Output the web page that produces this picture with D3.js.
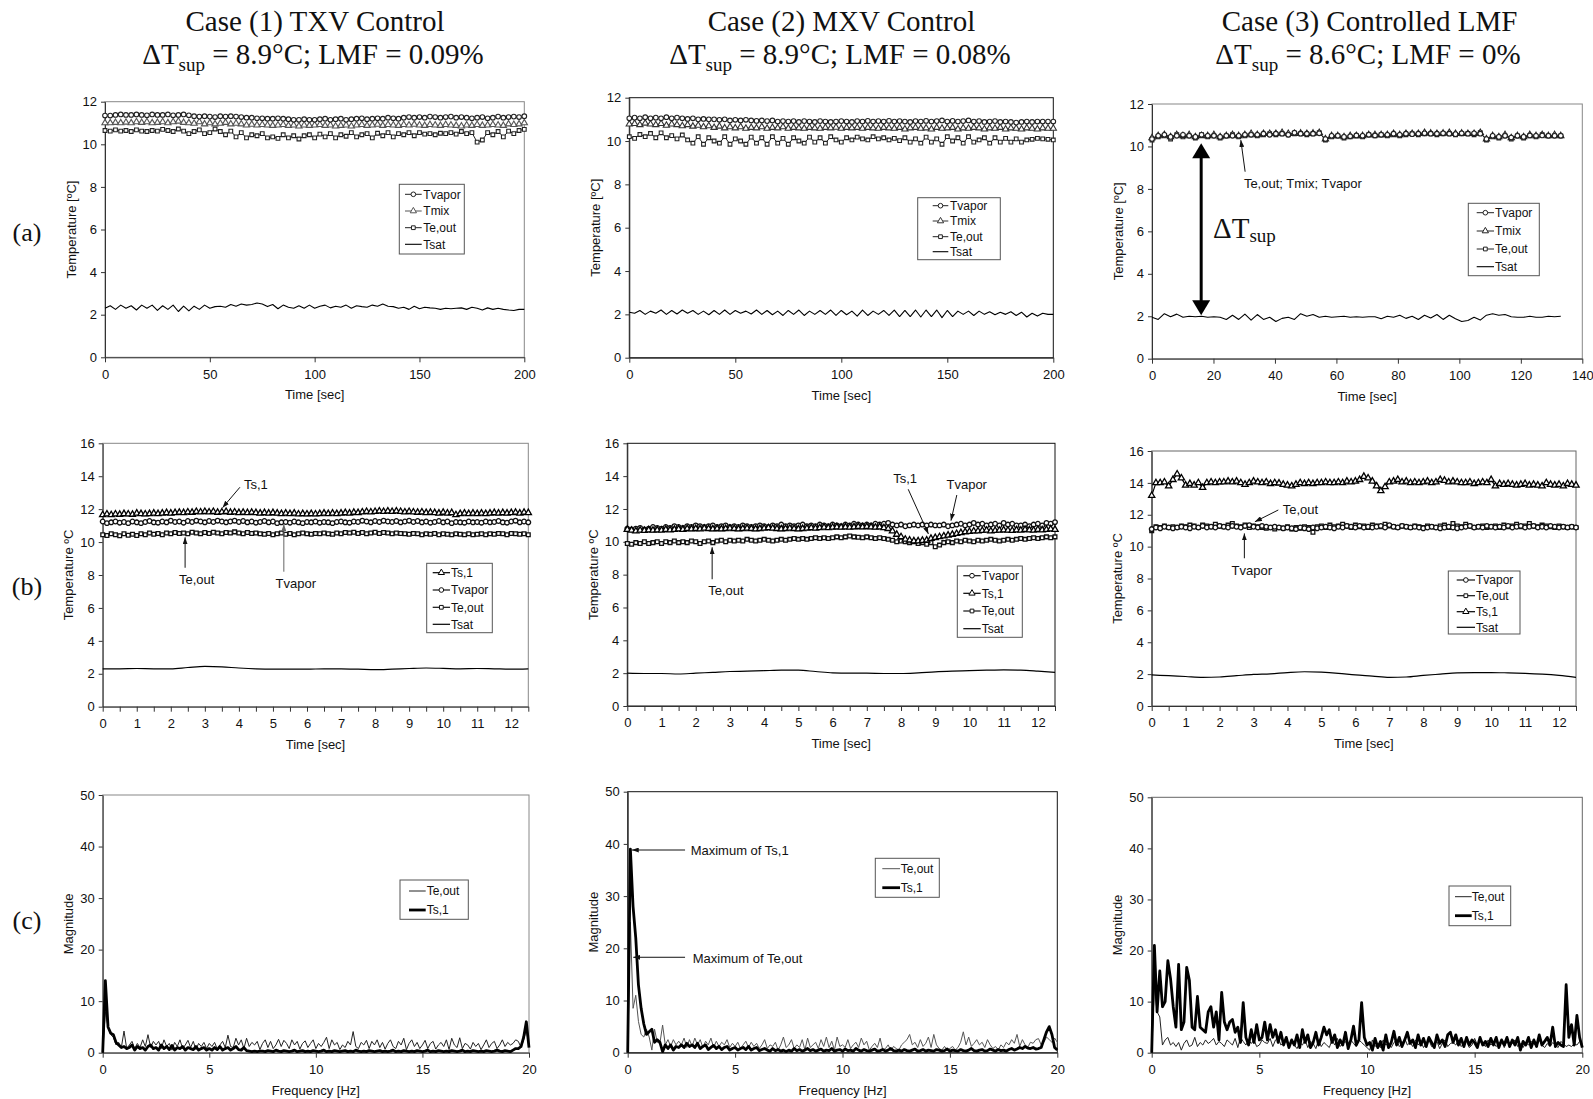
<!DOCTYPE html>
<html><head><meta charset="utf-8">
<script src="https://cdn.jsdelivr.net/npm/d3@7"></script>
<style>
body{margin:0;background:#fff}
svg{display:block}
text{font-family:"Liberation Sans",Arial,sans-serif;fill:#111}
.serif{font-family:"Liberation Serif","Times New Roman",serif}
</style>
</head><body>
<svg id="chart" width="1593" height="1099"></svg>
<script>
// ================= DATA =================
const caseTitles = ["Case (1) TXV Control","Case (2) MXV Control","Case (3) Controlled LMF"];
const caseSubtitles = [" = 8.9°C; LMF = 0.09%"," = 8.9°C; LMF = 0.08%"," = 8.6°C; LMF = 0%"];
const rowLabels = ["(a)","(b)","(c)"];

// Row (a): time series 0-200 s (cases 1,2) and 0-133 s (case 3)
const a1_span = [0,200];
const a1_Tvapor = [11.35,11.35,11.38,11.4,11.38,11.38,11.4,11.38,11.36,11.4,11.38,11.38,11.4,11.36,11.38,11.4,11.36,11.32,11.3,11.32,11.3,11.28,11.32,11.3,11.32,11.3,11.28,11.25,11.25,11.22,11.22,11.2,11.2,11.22,11.2,11.18,11.15,11.15,11.18,11.15,11.15,11.18,11.2,11.15,11.18,11.2,11.15,11.18,11.2,11.22,11.18,11.2,11.22,11.2,11.25,11.22,11.2,11.25,11.28,11.25,11.28,11.25,11.3,11.28,11.25,11.28,11.3,11.25,11.28,11.25,11.22,11.25,11.28,11.22,11.25,11.3,11.25,11.28,11.3,11.28,11.32];
const a1_Tmix = [11.0,11.0,11.02,11.0,11.03,11.0,11.05,11.02,11.05,11.0,11.02,11.05,11.0,11.05,11.08,11.02,11.0,10.98,11.05,10.95,11.0,10.95,10.98,11.02,10.95,10.98,10.95,10.9,10.93,10.9,10.92,10.9,10.88,10.9,10.92,10.88,10.9,10.85,10.9,10.88,10.9,10.92,10.88,10.9,10.85,10.88,10.9,10.85,10.9,10.92,10.88,10.9,10.93,10.88,10.92,10.9,10.88,10.92,10.9,10.93,10.9,10.88,10.92,10.9,10.88,10.92,10.9,10.88,10.85,10.9,10.88,10.92,10.88,10.9,10.92,10.9,10.88,10.95,10.92,10.95,11.0];
const a1_Teout = [10.65,10.62,10.68,10.62,10.65,10.6,10.68,10.62,10.6,10.65,10.62,10.7,10.65,10.6,10.72,10.62,10.5,10.6,10.68,10.5,10.55,10.72,10.6,10.45,10.62,10.35,10.55,10.3,10.45,10.4,10.5,10.3,10.35,10.28,10.45,10.3,10.4,10.25,10.4,10.45,10.3,10.48,10.35,10.5,10.3,10.45,10.38,10.55,10.35,10.45,10.5,10.3,10.52,10.4,10.55,10.35,10.5,10.45,10.55,10.4,10.55,10.48,10.5,10.45,10.52,10.5,10.55,10.48,10.6,10.5,10.55,10.1,10.2,10.55,10.45,10.6,10.35,10.62,10.5,10.65,10.7];
const a1_Tsat = [2.3,2.42,2.25,2.45,2.3,2.42,2.22,2.45,2.3,2.45,2.2,2.42,2.25,2.45,2.15,2.4,2.18,2.4,2.25,2.45,2.3,2.38,2.4,2.35,2.48,2.4,2.5,2.45,2.48,2.55,2.5,2.38,2.48,2.28,2.45,2.35,2.3,2.42,2.3,2.45,2.3,2.4,2.45,2.32,2.4,2.35,2.45,2.3,2.42,2.38,2.35,2.45,2.4,2.5,2.4,2.38,2.3,2.35,2.25,2.4,2.28,2.35,2.32,2.3,2.25,2.3,2.28,2.3,2.32,2.25,2.35,2.3,2.22,2.32,2.25,2.3,2.25,2.22,2.2,2.25,2.25];

const a2_span = [0,200];
const a2_Tvapor = [11.05,11.08,11.05,11.1,11.05,11.08,11.05,11.1,11.05,11.08,11.05,11.02,11.05,11.0,11.02,11.0,11.0,10.98,11.0,10.95,10.98,10.95,10.98,10.95,10.93,10.95,10.92,10.95,10.9,10.92,10.9,10.92,10.88,10.92,10.9,10.88,10.92,10.9,10.88,10.9,10.92,10.9,10.88,10.92,10.9,10.93,10.9,10.92,10.9,10.93,10.9,10.92,10.9,10.88,10.92,10.9,10.93,10.9,10.92,10.95,10.9,10.93,10.9,10.92,10.95,10.9,10.92,10.88,10.9,10.92,10.88,10.9,10.88,10.85,10.88,10.9,10.88,10.9,10.9,10.9,10.9];
const a2_Tmix = [10.78,10.8,10.75,10.82,10.78,10.75,10.8,10.72,10.78,10.75,10.7,10.75,10.68,10.72,10.65,10.7,10.62,10.68,10.6,10.65,10.6,10.65,10.58,10.62,10.6,10.65,10.58,10.62,10.6,10.65,10.58,10.62,10.6,10.58,10.62,10.6,10.58,10.62,10.6,10.63,10.58,10.62,10.6,10.62,10.58,10.62,10.6,10.58,10.62,10.6,10.58,10.62,10.55,10.6,10.62,10.58,10.6,10.55,10.62,10.58,10.6,10.62,10.55,10.6,10.58,10.62,10.6,10.55,10.6,10.58,10.62,10.55,10.6,10.58,10.55,10.6,10.58,10.55,10.6,10.58,10.58];
const a2_Teout = [10.2,10.12,10.3,10.2,10.35,10.15,10.38,10.15,10.25,10.1,10.28,10.05,9.9,10.2,9.85,10.15,10.0,9.9,10.2,9.85,10.1,10.0,9.85,10.18,9.9,10.15,9.85,10.2,9.9,10.12,9.85,10.15,10.0,9.9,10.18,9.95,10.15,9.9,10.2,10.05,9.95,10.15,10.05,10.18,10.1,10.05,10.2,10.1,10.15,10.05,10.12,10.02,10.15,9.95,10.1,9.9,10.18,9.95,10.1,9.85,10.2,10.0,10.15,9.9,10.2,9.95,10.05,10.15,9.9,10.15,9.95,10.12,9.95,10.1,9.95,10.05,10.08,10.12,10.1,10.08,10.05];
const a2_Tsat = [2.1,2.05,2.18,2.0,2.15,2.05,2.2,2.0,2.18,2.02,2.2,2.05,2.18,2.0,2.15,1.98,2.18,2.0,2.2,2.0,2.18,2.05,2.15,2.02,2.2,2.0,2.18,1.98,2.15,1.95,2.18,2.0,2.2,1.95,2.15,2.0,2.18,2.0,2.2,1.95,2.18,1.98,2.15,1.92,2.2,1.95,2.15,2.0,2.18,1.95,2.2,1.9,2.18,1.9,2.2,1.88,2.2,1.9,2.2,1.85,2.18,1.9,2.15,2.0,2.15,1.95,2.15,2.0,2.12,1.98,2.1,2.0,2.12,1.95,2.1,1.88,2.05,1.92,2.05,2.0,2.0];

const a3_span = [0,133];
const a3_Tvapor = [10.35,10.5,10.55,10.45,10.5,10.55,10.5,10.45,10.55,10.5,10.5,10.45,10.5,10.5,10.5,10.55,10.55,10.55,10.6,10.55,10.6,10.6,10.55,10.65,10.6,10.6,10.6,10.62,10.35,10.5,10.5,10.45,10.48,10.52,10.5,10.55,10.52,10.55,10.55,10.6,10.55,10.6,10.58,10.6,10.62,10.6,10.6,10.62,10.6,10.58,10.62,10.6,10.62,10.6,10.35,10.5,10.45,10.5,10.42,10.5,10.45,10.52,10.5,10.52,10.5,10.5,10.5];
const a3_Tmix = [10.4,10.5,10.55,10.45,10.55,10.5,10.55,10.45,10.5,10.5,10.55,10.45,10.5,10.55,10.5,10.55,10.6,10.55,10.6,10.6,10.6,10.65,10.6,10.6,10.62,10.6,10.62,10.65,10.35,10.5,10.5,10.45,10.5,10.5,10.5,10.55,10.55,10.55,10.55,10.6,10.55,10.6,10.6,10.6,10.65,10.62,10.6,10.62,10.65,10.6,10.62,10.6,10.6,10.65,10.35,10.5,10.45,10.55,10.4,10.5,10.45,10.55,10.5,10.55,10.5,10.55,10.5];
const a3_Teout = [10.3,10.45,10.5,10.35,10.55,10.45,10.5,10.4,10.55,10.45,10.5,10.4,10.5,10.55,10.45,10.5,10.55,10.5,10.55,10.6,10.55,10.6,10.55,10.6,10.6,10.55,10.6,10.65,10.3,10.45,10.5,10.4,10.45,10.5,10.45,10.55,10.5,10.55,10.5,10.55,10.5,10.55,10.6,10.55,10.6,10.6,10.55,10.6,10.6,10.55,10.6,10.6,10.55,10.65,10.3,10.45,10.4,10.5,10.35,10.5,10.4,10.5,10.45,10.55,10.5,10.5,10.5];
const a3_Tsat = [1.95,1.85,2.12,1.98,2.1,1.95,2.0,1.98,2.0,1.95,1.98,1.95,1.85,2.05,1.85,2.1,1.82,2.08,1.85,1.95,1.75,1.9,1.95,1.85,2.12,2.0,2.08,1.95,2.0,1.95,1.98,2.0,1.95,1.98,1.95,1.98,1.98,1.88,2.0,1.95,2.05,1.9,2.0,1.85,2.05,1.92,2.08,1.85,2.05,1.88,1.75,1.8,1.95,1.82,2.05,2.12,2.05,2.08,1.98,1.95,1.95,2.0,1.95,1.95,2.0,1.98,2.0];

// Row (b): 0-12.5 s
const b_span = [0,12.5];
const b1_Ts1 = [11.65,11.7,11.65,11.7,11.68,11.72,11.7,11.68,11.75,11.72,11.7,11.72,11.75,11.72,11.75,11.78,11.75,11.78,11.8,11.78,11.82,11.8,11.85,11.82,11.85,11.82,11.85,11.8,11.82,11.85,11.8,11.82,11.78,11.8,11.78,11.8,11.78,11.75,11.78,11.75,11.78,11.75,11.72,11.75,11.72,11.75,11.7,11.72,11.7,11.72,11.7,11.72,11.75,11.72,11.75,11.72,11.75,11.78,11.75,11.8,11.78,11.82,11.85,11.82,11.85,11.88,11.85,11.88,11.85,11.88,11.85,11.82,11.85,11.82,11.8,11.82,11.78,11.8,11.78,11.75,11.8,11.75,11.78,11.65,11.72,11.75,11.72,11.75,11.72,11.75,11.72,11.75,11.78,11.75,11.78,11.75,11.78,11.8,11.75,11.8,11.78];
const b1_Tvapor = [11.25,11.15,11.2,11.25,11.18,11.22,11.15,11.25,11.2,11.15,11.22,11.28,11.2,11.18,11.25,11.2,11.3,11.22,11.25,11.18,11.28,11.22,11.3,11.25,11.2,11.28,11.22,11.3,11.25,11.2,11.25,11.3,11.22,11.28,11.2,11.25,11.18,11.22,11.28,11.2,11.25,11.15,11.2,11.22,11.18,11.25,11.2,11.15,11.22,11.2,11.25,11.18,11.22,11.2,11.15,11.22,11.25,11.2,11.18,11.25,11.22,11.3,11.25,11.2,11.28,11.22,11.3,11.25,11.22,11.28,11.2,11.25,11.3,11.22,11.28,11.2,11.25,11.18,11.22,11.28,11.2,11.25,11.15,11.22,11.2,11.18,11.25,11.2,11.22,11.18,11.25,11.2,11.22,11.28,11.2,11.18,11.25,11.3,11.2,11.25,11.2];
const b1_Teout = [10.45,10.4,10.5,10.45,10.38,10.5,10.42,10.48,10.4,10.5,10.45,10.55,10.48,10.52,10.45,10.55,10.5,10.58,10.52,10.55,10.5,10.6,10.55,10.5,10.58,10.52,10.6,10.55,10.5,10.58,10.55,10.62,10.55,10.5,10.58,10.52,10.55,10.5,10.48,10.52,10.45,10.5,10.55,10.48,10.52,10.45,10.5,10.55,10.5,10.48,10.52,10.5,10.55,10.5,10.48,10.55,10.5,10.58,10.55,10.6,10.52,10.58,10.5,10.55,10.6,10.52,10.58,10.55,10.5,10.55,10.52,10.5,10.48,10.52,10.5,10.45,10.5,10.48,10.52,10.45,10.5,10.48,10.45,10.5,10.48,10.45,10.5,10.45,10.48,10.5,10.45,10.5,10.48,10.52,10.5,10.45,10.52,10.5,10.48,10.5,10.45];
const b1_Tsat = [2.3,2.3,2.32,2.3,2.3,2.38,2.45,2.42,2.35,2.3,2.28,2.28,2.28,2.3,2.3,2.28,2.25,2.28,2.32,2.35,2.33,2.3,2.32,2.3,2.28,2.3];

const b2_Tvapor = [10.8,10.75,10.8,10.85,10.75,10.8,10.9,10.85,10.8,10.9,10.85,10.95,10.9,10.85,10.95,10.9,11.0,10.95,10.9,10.95,11.0,10.9,10.95,11.0,10.9,10.95,10.9,11.0,10.95,10.9,10.95,11.0,10.95,10.9,11.0,10.95,11.05,10.95,11.0,10.95,11.0,11.05,10.95,11.0,10.95,11.05,11.0,10.95,11.05,11.0,10.95,11.05,11.0,11.1,11.05,11.0,11.05,11.0,11.1,11.05,11.1,11.15,11.05,11.0,11.05,10.95,11.0,11.05,11.0,11.05,11.0,11.05,11.0,11.0,11.05,10.95,11.0,11.05,11.1,11.0,11.05,11.15,11.05,11.1,11.0,11.05,11.1,11.0,11.15,11.05,11.1,11.0,11.0,11.05,10.95,11.05,11.1,11.0,11.15,11.1,11.2];
const b2_Ts1 = [10.75,10.7,10.65,10.7,10.68,10.72,10.7,10.72,10.7,10.75,10.72,10.75,10.78,10.75,10.8,10.78,10.8,10.78,10.82,10.8,10.78,10.8,10.78,10.8,10.82,10.8,10.78,10.8,10.82,10.8,10.78,10.8,10.82,10.85,10.82,10.8,10.78,10.8,10.82,10.8,10.78,10.8,10.82,10.85,10.82,10.85,10.88,10.85,10.88,10.9,10.88,10.9,10.88,10.9,10.92,10.9,10.92,10.9,10.88,10.9,10.85,10.8,10.65,10.45,10.3,10.15,10.1,10.05,10.05,10.08,10.1,10.2,10.25,10.3,10.35,10.4,10.45,10.5,10.55,10.6,10.62,10.65,10.65,10.68,10.7,10.65,10.68,10.7,10.72,10.7,10.68,10.72,10.7,10.75,10.72,10.7,10.75,10.72,10.75,10.78,10.75];
const b2_Teout = [9.9,9.85,9.95,9.9,10.0,9.9,9.95,10.0,9.9,10.0,9.95,10.05,9.95,10.0,9.95,10.05,10.0,9.9,10.0,10.05,9.95,10.05,10.1,10.0,10.1,10.05,10.1,10.05,10.15,10.1,10.05,10.1,10.15,10.1,10.05,10.1,10.15,10.1,10.15,10.2,10.15,10.2,10.15,10.2,10.25,10.2,10.25,10.2,10.25,10.3,10.25,10.3,10.35,10.3,10.28,10.25,10.3,10.25,10.2,10.25,10.2,10.15,10.1,10.0,10.05,10.0,9.95,10.0,9.9,9.95,9.85,9.95,9.7,9.8,9.95,10.0,9.95,10.05,10.0,10.1,10.05,10.0,10.1,10.05,10.1,10.15,10.1,10.05,10.1,10.15,10.1,10.15,10.2,10.15,10.2,10.25,10.2,10.25,10.3,10.25,10.3];
const b2_Tsat = [2.0,1.98,1.98,1.95,2.0,2.05,2.1,2.12,2.15,2.18,2.18,2.1,2.02,2.0,2.0,1.98,1.98,2.02,2.08,2.12,2.15,2.18,2.2,2.18,2.12,2.05];

const b3_Tvapor = [11.1,11.2,11.15,11.25,11.2,11.15,11.2,11.25,11.2,11.15,11.25,11.2,11.3,11.2,11.25,11.2,11.3,11.25,11.2,11.3,11.25,11.2,11.3,11.35,11.25,11.2,11.3,11.25,11.2,11.25,11.2,11.15,11.2,11.15,11.1,11.2,11.15,11.1,11.2,11.15,11.2,11.25,11.2,11.15,11.25,11.2,11.3,11.25,11.2,11.3,11.2,11.25,11.2,11.25,11.3,11.2,11.35,11.25,11.2,11.3,11.25,11.2,11.25,11.2,11.15,11.2,11.25,11.2,11.15,11.2,11.25,11.2,11.15,11.2,11.25,11.3,11.2,11.25,11.2,11.3,11.25,11.2,11.25,11.2,11.3,11.2,11.25,11.3,11.2,11.25,11.3,11.2,11.25,11.2,11.3,11.25,11.2,11.25,11.2,11.25,11.2];
const b3_Teout = [11.0,11.25,11.2,11.3,11.2,11.25,11.2,11.3,11.25,11.35,11.3,11.2,11.35,11.3,11.25,11.4,11.3,11.25,11.35,11.45,11.3,11.25,11.35,11.2,11.3,11.25,11.2,11.15,11.2,11.1,11.2,11.15,11.25,11.1,11.2,11.15,11.25,11.2,10.9,11.25,11.3,11.2,11.35,11.25,11.3,11.4,11.3,11.2,11.35,11.25,11.3,11.2,11.35,11.3,11.25,11.4,11.3,11.25,11.2,11.3,11.25,11.2,11.3,11.25,11.2,11.3,11.25,11.2,11.3,11.35,11.2,11.45,11.3,11.25,11.4,11.3,11.2,11.25,11.3,11.2,11.25,11.3,11.2,11.35,11.25,11.3,11.4,11.25,11.3,11.45,11.3,11.25,11.35,11.3,11.25,11.2,11.3,11.25,11.2,11.25,11.2];
const b3_Ts1 = [13.2,14.0,14.0,14.05,13.8,14.2,14.55,14.3,13.85,13.95,13.85,14.0,13.7,14.0,14.05,14.0,14.05,14.05,14.1,14.05,14.1,14.0,13.9,14.0,14.1,14.05,14.0,14.05,13.95,14.0,13.98,13.9,13.85,13.8,13.9,14.0,13.95,14.0,13.95,14.0,14.0,14.05,14.0,14.0,14.05,14.0,14.1,14.05,14.1,14.2,14.4,14.3,14.1,13.8,13.5,13.75,14.05,14.1,14.2,14.05,14.1,14.0,14.05,14.0,14.05,14.1,14.0,14.05,14.2,14.15,14.05,14.1,14.05,14.0,14.0,14.05,13.95,14.0,14.05,14.0,14.2,13.8,13.95,13.9,13.95,13.9,13.85,13.9,13.95,13.85,13.9,13.85,13.8,14.0,13.9,13.85,13.9,13.8,13.95,13.9,13.85];
const b3_Tsat = [1.95,1.9,1.85,1.8,1.82,1.9,1.98,2.02,2.1,2.15,2.12,2.05,1.95,1.88,1.8,1.82,1.92,2.0,2.08,2.1,2.1,2.08,2.05,2.0,1.92,1.8];

// Row (c): magnitude spectra 0-20 Hz
const c_span = [0,20];
const c1_Teout = [0,8,5,3.5,3,1.5,2,1,4.2,0.8,1.5,2.2,0.8,1.8,1,2.5,1.2,3.5,1,2.2,1.5,2.2,0.8,2.5,1.2,1.8,0.5,2,1.2,2.5,0.8,1.5,2.4,1,2.2,0.6,1.8,1.2,2,0.8,
1.8,1.2,2,0.7,1.5,2.2,1,3.4,1.2,1,2.8,1.5,2.5,0.8,2.8,1.2,2,1.5,2.2,0.6,
1.8,2.5,1,2.2,0.8,1.5,2.6,1.2,2.4,1.8,0.8,2.5,1.5,2.2,0.7,1.8,2.3,1,1.8,2.5,
0.8,1.8,1.2,2,3,0.8,2.5,1.5,2,0.6,1.5,1,2.2,1.5,4.1,1.2,0.8,2,1.5,2.4,
0.8,2.2,1.5,2.5,1,2,0.7,1.8,2.5,1.2,0.8,2.2,1.5,2.8,0.6,1.8,2.5,1.2,2,0.8,
1.5,2.4,0.8,1.8,2.2,0.7,1.5,2,1.2,2.5,0.6,2.8,1.5,1,2.9,0.8,1.8,1.5,0.7,2,
1.2,1.8,0.6,1.5,2.5,1,1.8,2.2,0.8,1.5,2.5,1.2,2,1.5,1.8,2.5,2.2,1,2.5,4.5,1.2];
const c1_Ts1 = [0,14,5,3.8,3.5,2,1.5,1,1.2,0.8,1,1.5,0.5,1.2,0.8,1,0.5,1.2,1.5,0.8,
1,0.5,1.5,0.8,1.2,0.6,1.4,0.5,1,0.8,1.2,0.5,1,0.8,0.6,1.2,0.5,0.8,1,0.5,
0.8,0.5,1,0.6,1.2,0.5,0.8,1,0.5,0.8,1.2,0.6,0.5,1,0.4,0.3,0.2,0.3,0.2,0.3,
0.3,0.2,0.4,0.3,0.2,0.5,0.3,0.2,0.4,0.3,0.2,0.3,0.5,0.2,0.3,0.4,0.2,0.3,0.2,0.4,
0.3,0.2,0.3,0.5,0.2,0.3,0.2,0.4,0.3,0.2,0.3,0.4,0.2,0.3,0.2,0.5,0.3,0.2,0.3,0.2,
0.4,0.3,0.2,0.3,0.4,0.2,0.3,0.2,0.3,0.5,0.2,0.3,0.2,0.4,0.3,0.2,0.3,0.2,0.4,0.3,
0.2,0.3,0.5,0.2,0.3,0.2,0.4,0.3,0.2,0.3,0.2,0.4,0.3,0.2,0.3,0.5,0.2,0.3,0.2,0.4,
0.3,0.2,0.3,0.2,0.4,0.3,0.2,0.3,0.5,0.3,0.2,0.4,0.3,0.2,0.5,0.8,0.8,1.2,3,6,1];
const c2_Teout = [0,25,8.5,11,6,3.5,3,4.5,3,0.5,4.5,2,1.8,5.3,1.5,2.5,1.2,2.5,1.5,2.2,
1.5,2.8,1,2.5,1.2,2.8,1.5,2.5,1,2.2,1.5,2.8,1,2.2,1.2,2,1.5,2.5,1,1.8,
1.2,2,0.8,1.5,2.2,1,2,1.2,1.8,0.8,1.5,2.5,0.8,1.5,1.2,2,0.5,1.5,3,1,
1.5,2.5,0.8,1.5,1,2.5,0.5,2.8,1,1.5,2,0.8,2.5,1.2,3,1,2.2,0.5,3,1.2,
1.5,1,2.5,0.8,1.5,2,1,2.8,1.5,2.2,0.5,1.2,1.8,1,2.8,0.5,0.8,1.5,0.4,1.2,
0.8,0.5,1.5,2,2.5,3.5,1.5,2,1,2.5,1.2,1.8,3,1,3.5,1.5,0.8,0.5,1.2,0.5,
0.8,1.2,0.5,1,2,4,1.5,3,1.2,1.8,2.5,1.5,2,1,2.5,1.5,0.8,1.2,0.5,1.5,
1,2,1.5,2.5,1.8,3.5,1.2,2.5,1.5,1,2,1.8,2.5,2.7,1.5,2,3,2.5,2,2.8,2];
const c2_Ts1 = [0,39,28,22,13,8.5,5.5,3.5,4,4.5,2,2.5,2,0.2,1.5,0.8,1.5,0.5,1.2,1,
1.5,1,1.8,1.2,1.5,1,1.8,0.8,1.2,1.5,0.6,1,1.4,0.8,1.2,0.6,1,1.2,0.5,0.8,
1,0.5,0.8,1,0.6,1.2,0.5,0.8,1,0.4,0.6,0.8,0.5,0.3,0.8,0.4,0.6,0.3,0.5,0.2,
0.5,0.3,0.8,0.4,0.6,0.3,0.5,0.8,0.4,0.6,0.3,0.5,0.7,0.3,0.5,0.4,0.8,0.3,0.5,0.6,
0.3,0.7,0.4,0.5,0.3,0.8,0.5,0.3,0.6,0.4,0.3,0.5,0.7,0.3,0.4,0.6,0.3,0.5,0.8,0.4,
0.3,0.5,0.3,0.6,0.4,0.3,0.5,0.7,0.3,0.4,0.6,0.3,0.5,0.4,0.3,0.6,0.5,0.3,0.4,0.7,
0.3,0.5,0.4,0.3,0.6,0.4,0.3,0.5,0.8,0.4,0.3,0.5,0.6,0.3,0.4,0.7,0.5,0.3,0.6,0.4,
0.5,0.3,0.6,0.8,0.5,0.7,1,0.8,1.2,0.9,0.8,1,0.7,0.8,1,2.5,4,5,3.5,1,0.5];
const c3_Teout = [0,13,8,7,1.5,2.5,3,1.5,2,1.2,2,0.5,1.8,2.5,1.2,1.5,3,1.2,2,1.5,
2.5,1.8,2.2,2.8,1.5,2.2,1.8,1.2,2.5,2,1.5,2.8,1,3,2.2,1.5,2.5,1.8,2.5,1.2,
1.5,2.5,2,1.8,2.8,1.2,2.5,3,1.5,2,2.5,1,2.2,1.5,0.8,2,1.5,2.5,1,2.2,
1.8,0.8,2.5,1.2,2,1.5,1,2.5,1.5,2.8,1.2,1.8,2.2,1,2.5,1.8,1.2,2.5,2,1.5,
1,0.5,2.5,1.2,1.8,1,2.5,1.5,1.8,1,2,2.5,1.2,1.8,2.8,1.5,2,1.2,2.5,1.5,
2.2,1,1.8,2.5,1.2,1.5,2.2,0.8,1.8,2.5,1.2,1.8,2,1.5,2.5,1.2,1.8,2.2,1,1.5,
2.8,1.5,2.2,1.8,1.2,2.5,1.5,2,1.2,1.8,2.5,1,2.2,1.5,1.8,2.5,1.2,1.8,1,2,
1.5,2.2,1.8,1.2,2.5,1.5,1,1.8,1.2,2,1.5,1,2.2,1.8,1.2,1.5,1.2,1.8,1.5,2.2,1.8];
const c3_Ts1 = [0,21,8,16,9,10,18,14.5,9,5,17.3,4.5,6,16.7,14.2,5,4.5,11,5,4.5,
4,8,9,5,8,2.5,11.8,6,4.5,6,6.5,4,5,2,9.8,3,1.5,4.5,2,5.5,
2.5,3,6,2.5,5.5,3,4.5,2,4,1.5,3,1,2.5,1.5,3.5,1,4.5,2,3.5,1,
2,4,1.5,3,5,3.5,4.5,2,3.5,1,2.5,1.5,4,0.8,2.5,5.2,1.5,2.5,9.8,3,
1.5,2,0.5,2.8,1,2.2,0.5,3.5,1,2,4.2,1.5,3,1.2,2.5,4,1.8,2.5,1,3.5,
1.5,2.8,1.2,3,2,1,3.5,1.8,2.5,1.2,3.5,4,2,3.5,1.5,2.8,1.2,3,1.5,2.5,
2,1,3,1.5,2.2,1.2,2.8,1.5,3,1,2.5,1.5,3,1.2,2.5,1.5,3,0.5,2.2,1.5,
3,1,2.5,1.2,3.5,1.5,2.2,3,1.5,5,1.2,2,1.5,1.2,13.3,3,5.5,1.5,7.3,3,1];

// ================= DRAWING =================
const svg = d3.select("#chart");
const defs = svg.append("defs");
function arrowDef(id, color, len, wid){
  defs.append("marker").attr("id", id).attr("viewBox","0 0 10 10")
    .attr("refX",10).attr("refY",5).attr("markerUnits","userSpaceOnUse")
    .attr("markerWidth",len).attr("markerHeight",wid).attr("orient","auto")
    .attr("preserveAspectRatio","none")
    .append("path").attr("d","M0,0L10,5L0,10Z").attr("fill",color);
}
arrowDef("arK","#111",7,5);
arrowDef("arG","#666",7,5);

// column titles
const titleX = [[315,313],[841.5,840],[1369.5,1368]];
caseTitles.forEach((t,i)=>{
  svg.append("text").attr("class","serif").attr("x",titleX[i][0]).attr("y",31)
    .attr("text-anchor","middle").style("font-size","29px").text(t);
  const s = svg.append("text").attr("class","serif").attr("x",titleX[i][1]).attr("y",64)
    .attr("text-anchor","middle").style("font-size","29px");
  s.append("tspan").text("ΔT");
  s.append("tspan").attr("dy",7).style("font-size","19px").text("sup");
  s.append("tspan").attr("dy",-7).text(caseSubtitles[i]);
});
[[27,241],[27,595],[27,929]].forEach((p,i)=>{
  svg.append("text").attr("class","serif").attr("x",p[0]).attr("y",p[1])
    .attr("text-anchor","middle").style("font-size","26px").text(rowLabels[i]);
});

const sym = {
  circle: d3.symbol().type(d3.symbolCircle).size(17),
  triangle: d3.symbol().type(d3.symbolTriangle).size(17),
  square: d3.symbol().type(d3.symbolSquare).size(14)
};

function makePanel(p){
  const x = d3.scaleLinear().domain(p.xDomain).range([p.left,p.right]);
  const y = d3.scaleLinear().domain(p.yDomain).range([p.bottom,p.top]);
  const g = svg.append("g");
  g.append("rect").attr("x",p.left).attr("y",p.top).attr("width",p.right-p.left)
    .attr("height",p.bottom-p.top).attr("fill","none").attr("stroke",p.frame).attr("stroke-width",1);
  const xa = d3.axisBottom(x).tickValues(p.xTicks).tickSize(5).tickSizeOuter(0).tickPadding(7)
    .tickFormat(p.xFmt || (d=>d));
  const ya = d3.axisLeft(y).tickValues(p.yTicks).tickSize(4).tickSizeOuter(0).tickPadding(4);
  const gx = g.append("g").attr("transform",`translate(0,${p.bottom})`).call(xa);
  const gy = g.append("g").attr("transform",`translate(${p.left},0)`).call(ya);
  [gx,gy].forEach(a=>{
    a.selectAll("path,line").attr("stroke","#333");
    a.selectAll("text").style("font-size","13px").attr("fill","#111")
      .style("font-family","'Liberation Sans',Arial,sans-serif");
  });
  g.append("text").attr("x",(p.left+p.right)/2).attr("y",p.bottom+42).attr("text-anchor","middle")
    .style("font-size","13px").text(p.xTitle);
  g.append("text").attr("transform",`translate(${p.left-34},${(p.top+p.bottom)/2}) rotate(-90)`)
    .attr("text-anchor","middle").attr("dy","0.35em").style("font-size","13px").text(p.yTitle);
  // series
  p.series.forEach(s=>{
    const n = s.values.length;
    const pts = s.values.map((v,i)=>[s.span[0]+(s.span[1]-s.span[0])*i/(n-1), v]);
    g.append("path").datum(pts)
      .attr("d", d3.line().x(d=>x(d[0])).y(d=>y(d[1])).curve(s.curve||d3.curveLinear))
      .attr("fill","none").attr("stroke",s.color).attr("stroke-width",s.width)
      .attr("stroke-linejoin","round");
    if(s.marker){
      g.append("g").selectAll("path").data(pts).join("path")
        .attr("transform",d=>`translate(${x(d[0])},${y(d[1])})`)
        .attr("d",sym[s.marker]()).attr("fill","#fff").attr("stroke",s.color).attr("stroke-width",s.mw||1);
    }
  });
  // legend
  const L = p.legend;
  g.append("rect").attr("x",L.x0).attr("y",L.y0).attr("width",L.x1-L.x0).attr("height",L.y1-L.y0)
    .attr("fill","#fff").attr("stroke","#555").attr("stroke-width",1);
  L.order.forEach((name,i)=>{
    const s = p.series.find(d=>d.name===name);
    const yy = L.rows[i];
    g.append("line").attr("x1",L.lx0).attr("x2",L.lx1).attr("y1",yy).attr("y2",yy)
      .attr("stroke",s.color).attr("stroke-width",s.width);
    if(s.marker){
      g.append("path").attr("transform",`translate(${(L.lx0+L.lx1)/2},${yy})`).attr("d",sym[s.marker]())
        .attr("fill","#fff").attr("stroke",s.color).attr("stroke-width",1);
    }
    g.append("text").attr("x",L.tx).attr("y",yy+4.3).style("font-size","12px").text(name);
  });
  // annotations
  (p.notes||[]).forEach(a=>{
    if(a.arrow){
      g.append("line").attr("x1",x(a.arrow[0])).attr("y1",y(a.arrow[1]))
        .attr("x2",x(a.arrow[2])).attr("y2",y(a.arrow[3]))
        .attr("stroke",a.color||"#111").attr("stroke-width",1)
        .attr("marker-end",`url(#${a.color?"arG":"arK"})`);
    }
    if(a.text){
      g.append("text").attr("x",x(a.at[0])).attr("y",y(a.at[1]))
        .attr("text-anchor",a.anchor||"start").style("font-size","13px").text(a.text);
    }
  });
  return {x,y,g};
}

const tempTicks = d3.range(0,12.01,2);
const bTicks = d3.range(0,12.51,0.5);
const bFmt = d=> Number.isInteger(d) ? d : "";

const legA = ["Tvapor","Tmix","Te,out","Tsat"];
function aSeries(span, tv, tm, te, ts, mixColor){
  return [
    {name:"Tsat",span,values:ts,color:"#000",width:1.1},
    {name:"Te,out",span,values:te,color:"#222",width:1,marker:"square",mw:1.1},
    {name:"Tmix",span,values:tm,color:mixColor,width:1,marker:"triangle",mw:1.1},
    {name:"Tvapor",span,values:tv,color:"#222",width:1,marker:"circle",mw:1.1}
  ];
}

// (a1)
makePanel({left:105,right:524.3,top:101.7,bottom:357.3,xDomain:[0,200],yDomain:[0,12],frame:"#888",
  xTicks:[0,50,100,150,200],yTicks:tempTicks,xTitle:"Time [sec]",yTitle:"Temperature [ºC]",
  series:aSeries(a1_span,a1_Tvapor,a1_Tmix,a1_Teout,a1_Tsat,"#555"),
  legend:{x0:399.3,y0:184.3,x1:464.3,y1:254,rows:[194.3,211,227.7,244.3],lx0:405,lx1:421.7,tx:423.3,order:legA}});
// (a2)
makePanel({left:629.3,right:1053.3,top:97.7,bottom:357.7,xDomain:[0,200],yDomain:[0,12],frame:"#111",
  xTicks:[0,50,100,150,200],yTicks:tempTicks,xTitle:"Time [sec]",yTitle:"Temperature [ºC]",
  series:aSeries(a2_span,a2_Tvapor,a2_Tmix,a2_Teout,a2_Tsat,"#333"),
  legend:{x0:917.7,y0:197.7,x1:1000.3,y1:259.7,rows:[205.7,221,236.7,251.7],lx0:932.7,lx1:948.3,tx:950,order:legA}});
// (a3)
const pa3 = makePanel({left:1152,right:1582.3,top:104,bottom:358.7,xDomain:[0,140],yDomain:[0,12],frame:"#888",
  xTicks:d3.range(0,141,20),yTicks:tempTicks,xTitle:"Time [sec]",yTitle:"Temperature [ºC]",
  series:aSeries(a3_span,a3_Tvapor,a3_Tmix,a3_Teout,a3_Tsat,"#222"),
  legend:{x0:1468.3,y0:203.3,x1:1539.3,y1:275.7,rows:[212.7,231,249,266.7],lx0:1476.7,lx1:1494,tx:1495,order:legA},
  notes:[{text:"Te,out; Tmix; Tvapor",at:[29.9,8.03],arrow:[30.3,8.81,28.9,10.3]}]});
// big ΔTsup double arrow (data units: t=16, between 10.15 and 2.05)
{
  const {x,y,g} = pa3;
  const ax = x(16), yTop = y(10.15), yBot = y(2.05);
  g.append("line").attr("x1",ax).attr("x2",ax).attr("y1",yTop+12).attr("y2",yBot-12)
    .attr("stroke","#000").attr("stroke-width",3);
  g.append("path").attr("d",`M${ax},${yTop}L${ax-9},${yTop+15}L${ax+9},${yTop+15}Z`).attr("fill","#000");
  g.append("path").attr("d",`M${ax},${yBot}L${ax-9},${yBot-15}L${ax+9},${yBot-15}Z`).attr("fill","#000");
  const t = g.append("text").attr("class","serif").attr("x",x(19.85)).attr("y",y(5.67)).style("font-size","29px");
  t.append("tspan").text("ΔT");
  t.append("tspan").attr("dy",4).style("font-size","19px").text("sup");
}

const legB1 = ["Ts,1","Tvapor","Te,out","Tsat"];
function bSeries(tv, ts1, te, tsat){
  return [
    {name:"Tsat",span:b_span,values:tsat,color:"#000",width:1.2,curve:d3.curveMonotoneX},
    {name:"Te,out",span:b_span,values:te,color:"#111",width:1.2,marker:"square",mw:1.3},
    {name:"Tvapor",span:b_span,values:tv,color:"#111",width:1.2,marker:"circle",mw:1.3},
    {name:"Ts,1",span:b_span,values:ts1,color:"#000",width:1.2,marker:"triangle",mw:1.3}
  ];
}
// (b1)
makePanel({left:102.7,right:528.3,top:443.3,bottom:706.7,xDomain:[0,12.5],yDomain:[0,16],frame:"#888",
  xTicks:bTicks,xFmt:bFmt,yTicks:d3.range(0,16.01,2),xTitle:"Time [sec]",yTitle:"Temperature ºC",
  series:bSeries(b1_Tvapor,b1_Ts1,b1_Teout,b1_Tsat),
  legend:{x0:426.7,y0:563.3,x1:492.3,y1:632.7,rows:[572.7,590,607.3,624.3],lx0:432.7,lx1:450,tx:451,order:legB1},
  notes:[
    {text:"Ts,1",at:[4.15,13.2],arrow:[4.03,13.33,3.52,12.09]},
    {text:"Te,out",at:[2.76,7.48],anchor:"middle",arrow:[2.42,8.44,2.42,10.29]},
    {text:"Tvapor",at:[5.67,7.21],anchor:"middle",arrow:[5.32,8.2,5.32,11.08],color:"#666"}
  ]});
// (b2)
makePanel({left:627.3,right:1055,top:443.3,bottom:706,xDomain:[0,12.5],yDomain:[0,16],frame:"#111",
  xTicks:bTicks,xFmt:bFmt,yTicks:d3.range(0,16.01,2),xTitle:"Time [sec]",yTitle:"Temperature ºC",
  series:bSeries(b2_Tvapor,b2_Ts1,b2_Teout,b2_Tsat),
  legend:{x0:957.3,y0:566,x1:1022.3,y1:637.3,rows:[575.7,593.3,611,628.7],lx0:963.3,lx1:980.7,tx:981.7,order:["Tvapor","Ts,1","Te,out","Tsat"]},
  notes:[
    {text:"Ts,1",at:[8.12,13.58],anchor:"middle",arrow:[8.21,13.2,8.8,10.48]},
    {text:"Tvapor",at:[9.92,13.22],anchor:"middle",arrow:[9.63,12.85,9.46,11.29]},
    {text:"Te,out",at:[2.88,6.79],anchor:"middle",arrow:[2.48,7.72,2.48,9.67]}
  ]});
// (b3)
makePanel({left:1151.7,right:1576,top:451,bottom:706,xDomain:[0,12.5],yDomain:[0,16],frame:"#666",
  xTicks:bTicks,xFmt:bFmt,yTicks:d3.range(0,16.01,2),xTitle:"Time [sec]",yTitle:"Temperature ºC",
  series:bSeries(b3_Tvapor,b3_Ts1,b3_Teout,b3_Tsat),
  legend:{x0:1448.3,y0:571,x1:1520,y1:634,rows:[580,595.7,611.7,627.3],lx0:1456.7,lx1:1475,tx:1476,order:["Tvapor","Te,out","Ts,1","Tsat"]},
  notes:[
    {text:"Te,out",at:[3.86,12.05],arrow:[3.73,12.3,3.04,11.56]},
    {text:"Tvapor",at:[2.95,8.19],anchor:"middle",arrow:[2.73,9.27,2.73,10.83]}
  ]});

function cSeries(te, ts, teColor){
  return [
    {name:"Te,out",span:c_span,values:te,color:teColor,width:1},
    {name:"Ts,1",span:c_span,values:ts,color:"#000",width:2.8}
  ];
}
const cY = d3.range(0,50.1,10);
// (c1)
makePanel({left:102.7,right:529,top:795,bottom:1052.7,xDomain:[0,20],yDomain:[0,50],frame:"#888",
  xTicks:[0,5,10,15,20],yTicks:cY,xTitle:"Frequency [Hz]",yTitle:"Magnitude",
  series:cSeries(c1_Teout,c1_Ts1,"#222"),
  legend:{x0:400,y0:880,x1:468.3,y1:919.3,rows:[891,910],lx0:409,lx1:425.7,tx:426.7,order:["Te,out","Ts,1"]}});
// (c2)
makePanel({left:627.7,right:1057.3,top:791.7,bottom:1052.7,xDomain:[0,20],yDomain:[0,50],frame:"#111",
  xTicks:[0,5,10,15,20],yTicks:cY,xTitle:"Frequency [Hz]",yTitle:"Magnitude",
  series:cSeries(c2_Teout,c2_Ts1,"#555"),
  legend:{x0:875.3,y0:858.3,x1:939.3,y1:897.3,rows:[868.7,887.7],lx0:882.3,lx1:900,tx:900.7,order:["Te,out","Ts,1"]},
  notes:[
    {text:"Maximum of Ts,1",at:[2.93,37.78],arrow:[2.67,38.83,0.19,38.83]},
    {text:"Maximum of Te,out",at:[3.03,17.18],arrow:[2.67,18.28,0.26,18.28]}
  ]});
// (c3)
makePanel({left:1151.7,right:1582.3,top:797.3,bottom:1052.7,xDomain:[0,20],yDomain:[0,50],frame:"#666",
  xTicks:[0,5,10,15,20],yTicks:cY,xTitle:"Frequency [Hz]",yTitle:"Magnitude",
  series:cSeries(c3_Teout,c3_Ts1,"#222"),
  legend:{x0:1449,y0:886,x1:1510.7,y1:925.7,rows:[896.7,915.7],lx0:1455,lx1:1471.7,tx:1471.7,order:["Te,out","Ts,1"]}});
</script>
</body></html>
